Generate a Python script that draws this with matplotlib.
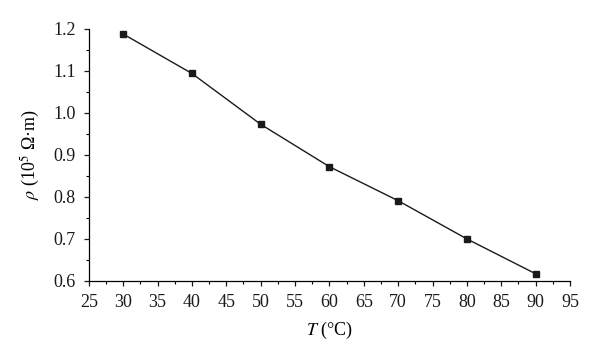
import matplotlib
matplotlib.use("Agg")
import matplotlib.pyplot as plt
from matplotlib.ticker import MultipleLocator

T = [30, 40, 50, 60, 70, 80, 90]
rho = [1.188, 1.094, 0.973, 0.872, 0.791, 0.700, 0.617]

plt.rcParams['font.family'] = ['Liberation Serif', 'DejaVu Serif']
plt.rcParams['mathtext.fontset'] = 'stix'

fig = plt.figure(figsize=(6.0, 3.62), dpi=100)
ax = fig.add_axes([0.148, 0.224, 0.802, 0.696])
ax.plot(T, rho, color='#1a1a1a', lw=1.0, marker='s', ms=5.0, mfc='#1a1a1a', mec='#1a1a1a')

ax.set_xlim(25, 95)
ax.set_ylim(0.6, 1.2)
ax.xaxis.set_major_locator(MultipleLocator(5))
ax.xaxis.set_minor_locator(MultipleLocator(2.5))
ax.yaxis.set_major_locator(MultipleLocator(0.1))
ax.yaxis.set_minor_locator(MultipleLocator(0.05))
ax.yaxis.set_major_formatter(matplotlib.ticker.FormatStrFormatter('%.1f'))
for s in ['top', 'right']:
    ax.spines[s].set_visible(False)
for s in ['left', 'bottom']:
    ax.spines[s].set_linewidth(0.9)
ax.tick_params(which='major', direction='out', length=3.5, width=0.9, labelsize=13, colors='#1a1a1a')
ax.tick_params(axis='x', which='major', pad=6)
ax.tick_params(axis='y', which='major', pad=6)
ax.tick_params(which='minor', direction='out', length=2, width=0.8)
ax.set_xlabel(r'$T$ (°C)', fontsize=13, labelpad=6)
ax.set_ylabel(r'$\rho$ (10$^5$ Ω·m)', fontsize=13, labelpad=8)

fig.savefig('out.png', dpi=100)
